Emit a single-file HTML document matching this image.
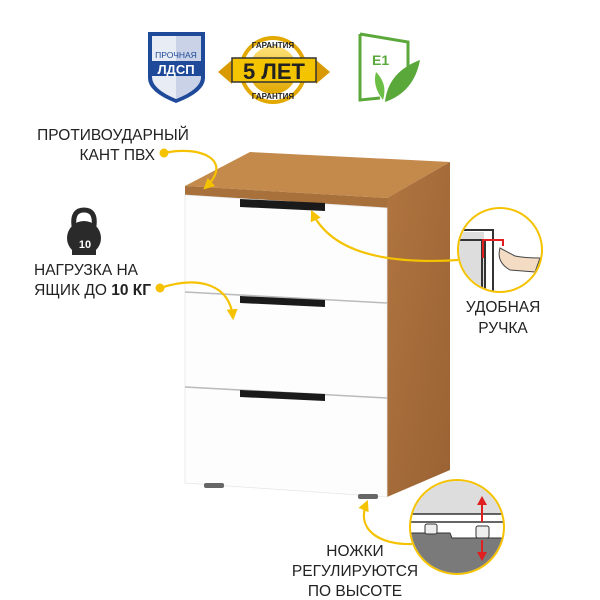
<!DOCTYPE html>
<html><head><meta charset="utf-8"><style>
html,body{margin:0;padding:0;background:#fff;}
svg{display:block;}
text{font-family:"Liberation Sans","DejaVu Sans",sans-serif;fill:#222;}
</style></head><body>
<svg width="600" height="600" viewBox="0 0 600 600" xmlns="http://www.w3.org/2000/svg">
<defs>
<marker id="ar" viewBox="0 0 10 10" refX="8" refY="5" markerWidth="5" markerHeight="5" orient="auto"><path d="M0,0 L10,5 L0,10 z" fill="#f5c200"/></marker>
<linearGradient id="wood" x1="0" y1="0" x2="1" y2="1"><stop offset="0" stop-color="#b07540"/><stop offset="1" stop-color="#9a6233"/></linearGradient>
<linearGradient id="gold" x1="0" y1="0" x2="0" y2="1"><stop offset="0" stop-color="#ffe27a"/><stop offset="1" stop-color="#e0a800"/></linearGradient>
</defs>

<!-- shield -->
<path d="M148,32 L205,32 L205,78 Q205,92 176,103 Q148,92 148,78 Z" fill="#1f4a9a"/>
<path d="M152,36 L201,36 L201,77 Q201,89 176,99 Q152,89 152,77 Z" fill="#e8ecf4"/>
<path d="M176,36 L201,36 L201,77 Q201,89 176,99 Z" fill="#c9d2e6"/>
<text x="176" y="58" font-size="8.5" text-anchor="middle" style="fill:#1f4a9a">ПРОЧНАЯ</text>
<rect x="152" y="61" width="49" height="15" fill="#1f4a9a"/>
<text x="176" y="74" font-size="13" font-weight="bold" text-anchor="middle" style="fill:#fff">ЛДСП</text>

<!-- gold badge -->
<path d="M218,72 L232,60 L232,84 Z M330,72 L316,60 L316,84 Z" fill="#d89a00"/>
<circle cx="273" cy="70" r="34" fill="#e3a900"/>
<circle cx="273" cy="70" r="30" fill="#fff"/>
<circle cx="273" cy="70" r="24" fill="url(#gold)"/>
<text x="273" y="48" font-size="8" font-weight="bold" text-anchor="middle">ГАРАНТИЯ</text>
<text x="273" y="99" font-size="8" font-weight="bold" text-anchor="middle">ГАРАНТИЯ</text>
<rect x="232" y="58" width="84" height="24" fill="#f5c400" stroke="#333" stroke-width="1.5"/>
<text x="274" y="79" font-size="22" font-weight="bold" text-anchor="middle">5 ЛЕТ</text>

<!-- E1 -->
<path d="M360,34 L408,42 L408,70 M360,34 L360,100 L380,98" fill="none" stroke="#5aa83a" stroke-width="3"/>
<text x="372" y="65" font-size="14" font-weight="bold" style="fill:#5aa83a">E1</text>
<path d="M385,102 Q388,72 420,60 Q414,92 385,102 Z" fill="#5aa83a"/>
<path d="M383,100 Q372,86 376,72 Q388,84 383,100 Z" fill="#6cbf45"/>

<!-- cabinet -->
<polygon points="185,186 250,152 450,162 387,198" fill="#c48a4c"/>
<polygon points="185,186 387,198 387,208 185,195" fill="#a8703a"/>
<polygon points="387,198 450,162 450,470 387,497" fill="url(#wood)"/>
<polygon points="185,195 387,208 387,497 185,483" fill="#fdfdfd" stroke="#e6e6e6" stroke-width="0.8"/>
<line x1="185" y1="292" x2="387" y2="303" stroke="#bbb" stroke-width="1.5"/>
<line x1="185" y1="387" x2="387" y2="398" stroke="#bbb" stroke-width="1.5"/>
<polygon points="240,199 325,203 325,211 240,207" fill="#1a1a1a"/>
<polygon points="240,296 325,300 325,307 240,303" fill="#1a1a1a"/>
<polygon points="240,390 325,394 325,401 240,397" fill="#1a1a1a"/>
<rect x="204" y="483" width="20" height="5" rx="2" fill="#666"/>
<rect x="358" y="494" width="20" height="5" rx="2" fill="#666"/>

<!-- left texts -->
<text x="113" y="140" font-size="15.5" text-anchor="middle">ПРОТИВОУДАРНЫЙ</text>
<text x="155" y="160" font-size="15.5" text-anchor="end">КАНТ ПВХ</text>
<circle cx="164" cy="153" r="4.5" fill="#f5c200"/>
<path d="M164,153 C200,145 235,160 205,188" fill="none" stroke="#f5c200" stroke-width="2.2" marker-end="url(#ar)"/>

<!-- kettlebell -->
<path d="M74,226 Q72,210 84,210 Q96,210 94,226" fill="none" stroke="#2a2a2a" stroke-width="5"/>
<circle cx="84" cy="238" r="17" fill="#2a2a2a"/>
<rect x="72" y="248" width="24" height="7" fill="#2a2a2a"/>
<text x="85" y="248" font-size="11" font-weight="bold" text-anchor="middle" style="fill:#fff">10</text>
<text x="86" y="275" font-size="15.5" text-anchor="middle">НАГРУЗКА НА</text>
<text x="151" y="295" font-size="15.5" text-anchor="end">ЯЩИК ДО <tspan font-weight="bold">10 КГ</tspan></text>
<circle cx="160" cy="288" r="4.5" fill="#f5c200"/>
<path d="M160,288 C200,275 230,285 233,318" fill="none" stroke="#f5c200" stroke-width="2.2" marker-end="url(#ar)"/>

<!-- handle circle -->
<path d="M458,260 C380,265 330,250 312,212" fill="none" stroke="#f5c200" stroke-width="2.2" marker-end="url(#ar)"/>
<circle cx="500" cy="250" r="42" fill="#fff" stroke="#f5c200" stroke-width="2"/>
<clipPath id="c1"><circle cx="500" cy="250" r="41"/></clipPath>
<g clip-path="url(#c1)">
<rect x="450" y="232" width="34" height="70" fill="#ddd"/>
<path d="M458,230 L493,230 L493,300 M458,240 L482,240 L482,300 M485,240 L485,300" fill="none" stroke="#333" stroke-width="2"/>
<path d="M483,258 L483,240 L503,240 L503,246" fill="none" stroke="#e02020" stroke-width="2"/>
<path d="M500,248 Q496,262 510,270 L535,272 L540,258 Q525,258 515,256 Z" fill="#f3dcc3" stroke="#444" stroke-width="1"/>
</g>
<text x="503" y="312" font-size="15.5" text-anchor="middle">УДОБНАЯ</text>
<text x="503" y="333" font-size="15.5" text-anchor="middle">РУЧКА</text>

<!-- feet circle -->
<path d="M412,544 C380,545 355,530 367,502" fill="none" stroke="#f5c200" stroke-width="2.2" marker-end="url(#ar)"/>
<circle cx="457" cy="527" r="47" fill="#fff" stroke="#f5c200" stroke-width="2"/>
<clipPath id="c2"><circle cx="457" cy="527" r="46"/></clipPath>
<g clip-path="url(#c2)">
<rect x="405" y="478" width="110" height="36" fill="#ddd"/>
<path d="M405,514 L510,514 M405,522 L510,522" stroke="#333" stroke-width="1.5"/>
<path d="M405,533 L450,533 L452,538 L510,538 L510,580 L405,580 Z" fill="#7a7a7a" stroke="#333" stroke-width="1"/>
<rect x="425" y="524" width="12" height="10" rx="2" fill="#eee" stroke="#333"/>
<rect x="476" y="526" width="13" height="12" rx="2" fill="#eee" stroke="#333"/>
<line x1="482" y1="522" x2="482" y2="502" stroke="#e02020" stroke-width="2"/>
<polygon points="482,496 477,505 487,505" fill="#e02020"/>
<line x1="482" y1="540" x2="482" y2="556" stroke="#e02020" stroke-width="2"/>
<polygon points="482,561 477,552 487,552" fill="#e02020"/>
</g>
<text x="355" y="556" font-size="15.5" text-anchor="middle">НОЖКИ</text>
<text x="355" y="576" font-size="15.5" text-anchor="middle">РЕГУЛИРУЮТСЯ</text>
<text x="355" y="596" font-size="15.5" text-anchor="middle">ПО ВЫСОТЕ</text>
</svg>
</body></html>
